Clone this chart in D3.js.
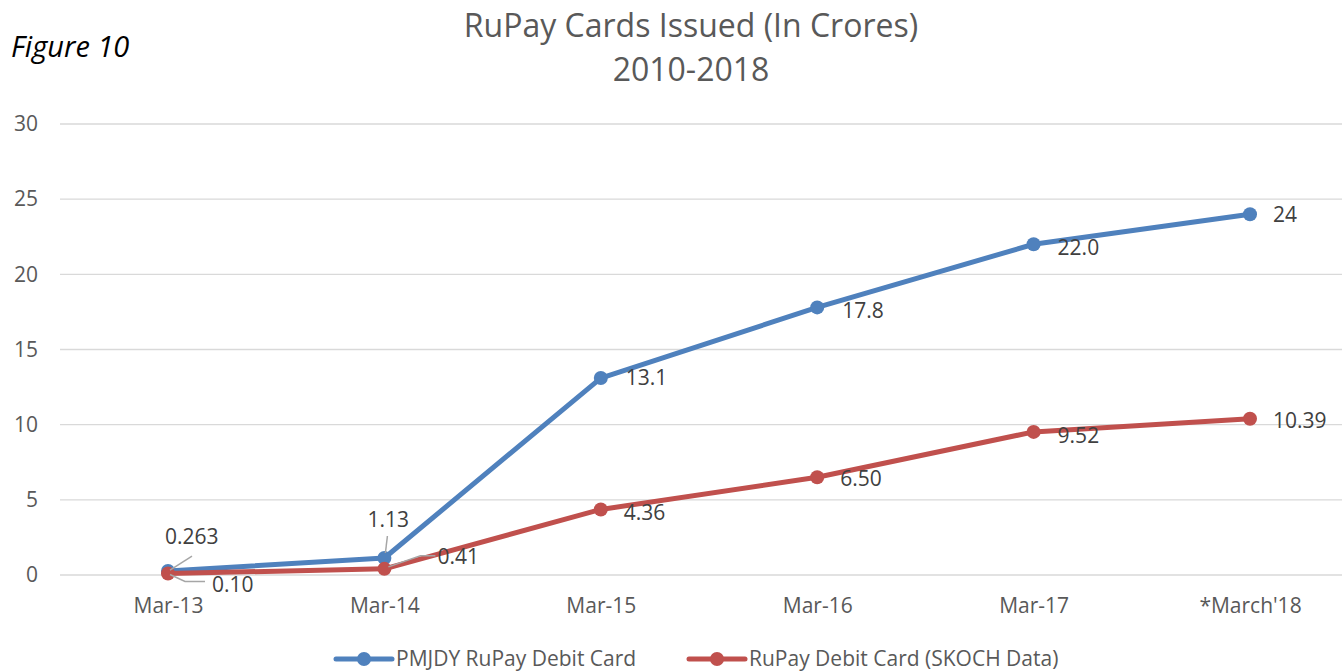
<!DOCTYPE html>
<html><head><meta charset="utf-8">
<script src="https://cdn.jsdelivr.net/npm/d3@7"></script>
<style>body{margin:0;background:#fff}svg{display:block}</style>
</head><body>
<svg id="c" width="1342" height="671"></svg>
<script>
const categories = ["Mar-13","Mar-14","Mar-15","Mar-16","Mar-17","*March'18"];
const pmjdy = [0.263, 1.13, 13.1, 17.8, 22.0, 24];
const pmjdyLabels = ["0.263","1.13","13.1","17.8","22.0","24"];
const skoch = [0.10, 0.41, 4.36, 6.50, 9.52, 10.39];
const skochLabels = ["0.10","0.41","4.36","6.50","9.52","10.39"];
const yTicks = [0,5,10,15,20,25,30];
const seriesNames = ["PMJDY RuPay Debit Card","RuPay Debit Card (SKOCH Data)"];

// label layout: [dx, dy (center), leader polyline offsets or null]
const pmjdyOff = [[-3,-34,[[2,-1],[24,-15]]],[-17,-38,[[1,-5],[3,-22]]],[25,0],[25,3],[24,3],[23,0]];
const skochOff = [[44,11,[[2,1],[17,8],[37,8]]],[53,-12,[[4,-2],[36,-13],[51,-13]]],[23,3],[23,1],[24,4],[23,2]];

const svg = d3.select("#c");
const font = "'Open Sans', Calibri, sans-serif";
const x = d3.scalePoint().domain(categories).range([168,1250]);
const y = d3.scaleLinear().domain([0,30]).range([575,124]);

svg.append("g").selectAll("line").data(yTicks).join("line")
  .attr("x1",60).attr("x2",1342).attr("y1",d=>y(d)).attr("y2",d=>y(d))
  .attr("stroke","#d9d9d9").attr("stroke-width",1.3);

const ya = svg.append("g").attr("transform","translate(38,0)")
  .call(d3.axisLeft(y).tickValues(yTicks).tickSize(0).tickPadding(0));
ya.select(".domain").remove();
ya.selectAll("text").attr("font-family",font).attr("font-size",21).attr("fill","#595959");

const xa = svg.append("g").attr("transform","translate(0,598)")
  .call(d3.axisBottom(x).tickSize(0).tickPadding(0));
xa.select(".domain").remove();
xa.selectAll("text").attr("font-family",font).attr("font-size",21).attr("fill","#595959");

svg.append("text").attr("x",691).attr("y",37).attr("text-anchor","middle")
  .attr("font-family",font).attr("font-size",32).attr("fill","#595959").text("RuPay Cards Issued (In Crores)");
svg.append("text").attr("x",691).attr("y",81).attr("text-anchor","middle")
  .attr("font-family",font).attr("font-size",32).attr("fill","#595959").text("2010-2018");
svg.append("text").attr("x",11).attr("y",57)
  .attr("font-family",font).attr("font-size",29).attr("font-style","italic").attr("fill","#000").text("Figure 10");

const line = d3.line().x((d,i)=>x(categories[i])).y(d=>y(d));
const series = [
  {vals:pmjdy, labels:pmjdyLabels, off:pmjdyOff, color:"#4f81bd"},
  {vals:skoch, labels:skochLabels, off:skochOff, color:"#c0504d"}
];
series.forEach(s=>{
  svg.append("path").datum(s.vals).attr("d",line).attr("fill","none")
    .attr("stroke",s.color).attr("stroke-width",5).attr("stroke-linejoin","round");
  svg.append("g").selectAll("circle").data(s.vals).join("circle")
    .attr("cx",(d,i)=>x(categories[i])).attr("cy",d=>y(d)).attr("r",7).attr("fill",s.color);
});
series.forEach(s=>{
  s.vals.forEach((v,i)=>{
    const px=x(categories[i]), py=y(v), o=s.off[i];
    if(o[2]){
      svg.append("polyline").attr("points",o[2].map(p=>[px+p[0],py+p[1]].join(",")).join(" "))
        .attr("fill","none").attr("stroke","#a6a6a6").attr("stroke-width",1.5);
    }
    svg.append("text").attr("x",px+o[0]).attr("y",py+o[1]).attr("dy","0.35em")
      .attr("font-family",font).attr("font-size",21).attr("fill","#404040").text(s.labels[i]);
  });
});

const leg = [{x:336,color:"#4f81bd",name:seriesNames[0]},{x:689,color:"#c0504d",name:seriesNames[1]}];
leg.forEach(l=>{
  svg.append("line").attr("x1",l.x).attr("x2",l.x+56).attr("y1",659).attr("y2",659)
    .attr("stroke",l.color).attr("stroke-width",5).attr("stroke-linecap","round");
  svg.append("circle").attr("cx",l.x+28).attr("cy",659).attr("r",7).attr("fill",l.color);
  svg.append("text").attr("x",l.x+60).attr("y",659).attr("dy","0.35em")
    .attr("font-family",font).attr("font-size",21).attr("fill","#595959").text(l.name);
});
</script>
</body></html>
